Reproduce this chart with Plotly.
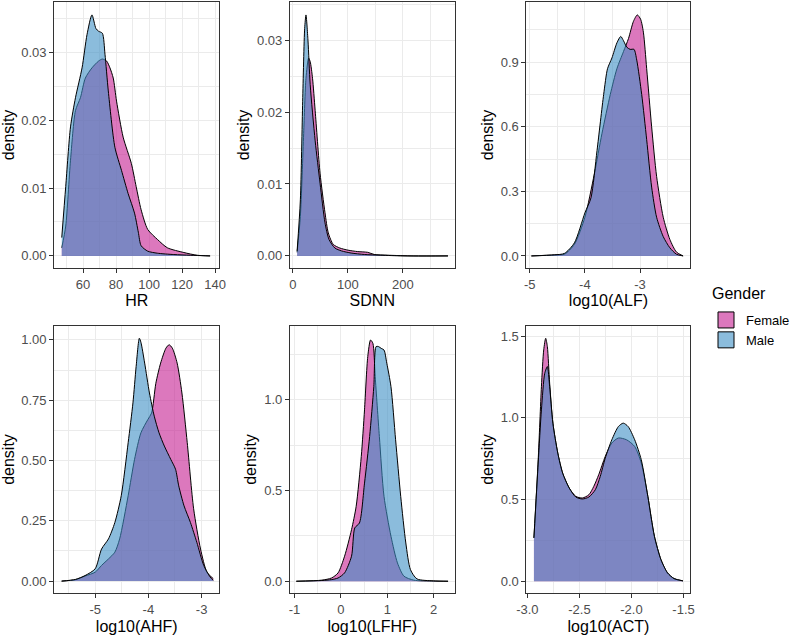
import plotly.graph_objects as go

# ---------------- data (density curves) ----------------
hr_x_female = [47.1, 49.5, 52.4, 55.4, 58.4, 61.4, 65.4, 69.4, 71.7, 74.3, 76.3, 78.3, 80.3, 84.3, 89.3, 92.2, 95.2, 99.2, 105.2, 111.1, 121.1, 129.1, 137.0]
hr_y_female = [0.0012, 0.0044, 0.0141, 0.0214, 0.0233, 0.0262, 0.0277, 0.0287, 0.0290, 0.0287, 0.0277, 0.0262, 0.0228, 0.0175, 0.0136, 0.0102, 0.0068, 0.0039, 0.0024, 0.0012, 0.0005, 0.0001, 0.0]
hr_x_male = [47.1, 49.5, 52.4, 55.4, 59.4, 62.4, 65.4, 67.8, 69.4, 71.7, 73.3, 75.3, 79.3, 83.3, 87.3, 91.2, 93.5, 95.2, 99.2, 105.0, 115.0, 125.0, 137.0]
hr_y_male = [0.0027, 0.0102, 0.0190, 0.0233, 0.0277, 0.0326, 0.0355, 0.0335, 0.0331, 0.0328, 0.0297, 0.0243, 0.0160, 0.0126, 0.0092, 0.0063, 0.0035, 0.0015, 0.0007, 0.0004, 0.0002, 0.0001, 0.0]

sdnn_x_female = [7.8, 13.7, 19.7, 23.9, 28.7, 31.6, 35.8, 40.6, 49.5, 58.5, 64.5, 73.5, 85.4, 100.3, 118.0, 136.0, 148.0, 172.0, 220.0, 282.0]
sdnn_y_female = [0.0005, 0.0055, 0.0170, 0.0247, 0.0275, 0.0270, 0.0247, 0.0202, 0.0115, 0.0060, 0.0032, 0.0016, 0.0011, 0.0008, 0.0006, 0.0005, 0.0002, 0.0001, 0.0, 0.0]
sdnn_x_male = [7.8, 13.7, 17.9, 21.5, 23.9, 27.5, 31.6, 40.6, 49.5, 58.5, 65.7, 76.4, 88.3, 106.0, 130.0, 160.0, 200.0, 282.0]
sdnn_y_male = [0.0007, 0.0078, 0.0215, 0.0316, 0.0335, 0.0300, 0.0238, 0.0160, 0.0101, 0.0046, 0.0023, 0.0011, 0.0007, 0.0004, 0.0002, 0.0001, 0.0, 0.0]

alf_x_female = [-4.97, -4.55, -4.37, -4.19, -4.00, -3.83, -3.69, -3.54, -3.42, -3.30, -3.21, -3.12, -3.05, -2.99, -2.94, -2.88, -2.79, -2.70, -2.58, -2.46, -2.34, -2.22]
alf_y_female = [0.0, 0.005, 0.008, 0.054, 0.18, 0.38, 0.57, 0.75, 0.87, 0.95, 1.01, 1.09, 1.12, 1.10, 1.04, 0.87, 0.60, 0.37, 0.18, 0.077, 0.018, 0.0]
alf_x_male = [-4.97, -4.55, -4.37, -4.19, -4.00, -3.89, -3.78, -3.66, -3.59, -3.51, -3.42, -3.35, -3.30, -3.24, -3.18, -3.11, -3.06, -2.97, -2.88, -2.79, -2.70, -2.58, -2.46, -2.34, -2.22]
alf_y_male = [0.0, 0.005, 0.012, 0.061, 0.20, 0.27, 0.49, 0.75, 0.87, 0.92, 0.99, 1.02, 1.00, 0.97, 0.96, 0.96, 0.91, 0.75, 0.54, 0.32, 0.18, 0.09, 0.038, 0.008, 0.0]

ahf_x_female = [-5.63, -5.37, -5.19, -5.00, -4.88, -4.75, -4.63, -4.54, -4.38, -4.26, -4.14, -4.01, -3.94, -3.86, -3.77, -3.67, -3.61, -3.55, -3.46, -3.37, -3.27, -3.15, -3.02, -2.90, -2.78]
ahf_y_female = [0.0, 0.006, 0.021, 0.037, 0.065, 0.092, 0.12, 0.175, 0.354, 0.505, 0.615, 0.67, 0.697, 0.82, 0.904, 0.966, 0.98, 0.966, 0.904, 0.78, 0.574, 0.30, 0.133, 0.037, 0.01]
ahf_x_male = [-5.63, -5.37, -5.19, -5.00, -4.88, -4.75, -4.63, -4.51, -4.38, -4.29, -4.23, -4.17, -4.14, -4.07, -3.98, -3.89, -3.80, -3.70, -3.58, -3.49, -3.43, -3.33, -3.21, -3.09, -2.96, -2.84, -2.78]
ahf_y_male = [0.0, 0.007, 0.023, 0.051, 0.133, 0.175, 0.243, 0.354, 0.574, 0.739, 0.89, 1.007, 0.99, 0.904, 0.78, 0.684, 0.615, 0.56, 0.505, 0.464, 0.395, 0.312, 0.243, 0.161, 0.065, 0.017, 0.003]

lfhf_x_female = [-0.96, -0.41, -0.20, -0.06, 0.08, 0.23, 0.33, 0.44, 0.51, 0.58, 0.64, 0.69, 0.74, 0.83, 0.93, 1.08, 1.22, 1.36, 1.57, 2.00, 2.31]
lfhf_y_female = [0.0, 0.006, 0.018, 0.046, 0.138, 0.284, 0.413, 0.688, 0.945, 1.239, 1.33, 1.312, 1.128, 0.798, 0.468, 0.248, 0.101, 0.028, 0.006, 0.001, 0.0]
lfhf_x_male = [-0.96, -0.41, -0.20, -0.06, 0.08, 0.23, 0.30, 0.40, 0.51, 0.62, 0.71, 0.76, 0.81, 0.87, 0.93, 0.99, 1.08, 1.18, 1.29, 1.40, 1.50, 1.64, 2.00, 2.31]
lfhf_y_male = [0.0, 0.004, 0.009, 0.018, 0.046, 0.138, 0.294, 0.321, 0.541, 0.798, 1.073, 1.294, 1.294, 1.284, 1.275, 1.202, 1.073, 0.78, 0.468, 0.211, 0.064, 0.013, 0.002, 0.0]

act_x_female = [-2.937, -2.896, -2.865, -2.843, -2.824, -2.808, -2.786, -2.755, -2.708, -2.661, -2.598, -2.535, -2.472, -2.409, -2.362, -2.315, -2.252, -2.189, -2.126, -2.047, -1.969, -1.906, -1.843, -1.780, -1.717, -1.654, -1.591, -1.506]
act_y_female = [0.265, 0.743, 1.19, 1.415, 1.486, 1.435, 1.211, 0.967, 0.784, 0.661, 0.57, 0.519, 0.509, 0.529, 0.58, 0.651, 0.763, 0.845, 0.876, 0.865, 0.824, 0.723, 0.519, 0.275, 0.132, 0.051, 0.016, 0.002]
act_x_male = [-2.937, -2.896, -2.865, -2.833, -2.808, -2.786, -2.755, -2.708, -2.661, -2.598, -2.535, -2.472, -2.409, -2.347, -2.300, -2.252, -2.189, -2.126, -2.079, -2.032, -1.969, -1.906, -1.843, -1.780, -1.717, -1.654, -1.591, -1.506]
act_y_male = [0.265, 0.723, 1.048, 1.272, 1.313, 1.191, 0.967, 0.784, 0.661, 0.57, 0.515, 0.503, 0.515, 0.56, 0.641, 0.753, 0.865, 0.946, 0.967, 0.946, 0.865, 0.743, 0.519, 0.275, 0.132, 0.051, 0.016, 0.002]

groups = ["Female", "Male"]
legend_title = "Gender"
x_titles = ["HR", "SDNN", "log10(ALF)", "log10(AHF)", "log10(LFHF)", "log10(ACT)"]

x_tickvals = [[60, 80, 100, 120, 140], [0, 100, 200], [-5, -4, -3], [-5, -4, -3], [-1, 0, 1, 2], [-3.0, -2.5, -2.0, -1.5]]
x_ticktext = [["60", "80", "100", "120", "140"], ["0", "100", "200"], ["-5", "-4", "-3"], ["-5", "-4", "-3"], ["-1", "0", "1", "2"], ["-3.0", "-2.5", "-2.0", "-1.5"]]
y_tickvals = [[0, 0.01, 0.02, 0.03], [0, 0.01, 0.02, 0.03], [0, 0.3, 0.6, 0.9], [0, 0.25, 0.5, 0.75, 1.0], [0, 0.5, 1.0], [0, 0.5, 1.0, 1.5]]
y_ticktext = [["0.00", "0.01", "0.02", "0.03"], ["0.00", "0.01", "0.02", "0.03"], ["0.0", "0.3", "0.6", "0.9"], ["0.00", "0.25", "0.50", "0.75", "1.00"], ["0.0", "0.5", "1.0"], ["0.0", "0.5", "1.0", "1.5"]]

# ---------------- styling ----------------
W, H = 795, 636
fill_colors = {"Female": "rgba(196,30,145,0.6)", "Male": "rgba(62,143,197,0.6)"}
x_ranges = [[42.5, 142.6], [-5.4, 294.3], [-5.06, -2.087], [-5.77, -2.667], [-1.099, 2.454], [-3.009, -1.434]]
y_ranges = [[-0.00178, 0.0374], [-0.00168, 0.0353], [-0.056, 1.18], [-0.0505, 1.059], [-0.0665, 1.409], [-0.074, 1.563]]
x_minor = [10, 50, 0.5, 0.5, 0.5, 0.25]
y_minor = [0.005, 0.005, 0.15, 0.125, 0.25, 0.25]

col_px = [(55, 222.7), (294.3, 461.7), (534.5, 701)]
row_px = [(2, 268), (325.7, 593.3)]

panels = [
    (hr_x_female, hr_y_female, hr_x_male, hr_y_male),
    (sdnn_x_female, sdnn_y_female, sdnn_x_male, sdnn_y_male),
    (alf_x_female, alf_y_female, alf_x_male, alf_y_male),
    (ahf_x_female, ahf_y_female, ahf_x_male, ahf_y_male),
    (lfhf_x_female, lfhf_y_female, lfhf_x_male, lfhf_y_male),
    (act_x_female, act_y_female, act_x_male, act_y_male),
]

FONT = "Liberation Sans, Arial"
fig = go.Figure()
layout = {}
for i, (xf, yf, xm, ym) in enumerate(panels):
    n = "" if i == 0 else str(i + 1)
    r, c = divmod(i, 3)
    for name, xs, ys in (("Female", xf, yf), ("Male", xm, ym)):
        fig.add_trace(go.Scatter(
            x=xs, y=ys, mode="lines", fill="tozeroy",
            fillcolor=fill_colors[name],
            line=dict(color="black", width=1, shape="spline", smoothing=0.7),
            xaxis="x" + n, yaxis="y" + n, showlegend=False, hoverinfo="skip"))
    x0, x1 = col_px[c]
    y0, y1 = row_px[r]
    axis_common = dict(
        showline=True, mirror=True, linecolor="#333333", linewidth=1,
        ticks="outside", ticklen=4, tickcolor="#333333", tickwidth=1,
        showgrid=True, gridcolor="#EBEBEB", gridwidth=1, zeroline=False,
        tickfont=dict(family=FONT, size=13, color="#4D4D4D"),
        automargin=False,
    )
    layout["xaxis" + n] = dict(
        axis_common, domain=[x0 / W, x1 / W], range=x_ranges[i], anchor="y" + n,
        tickmode="array", tickvals=x_tickvals[i], ticktext=x_ticktext[i],
        minor=dict(dtick=x_minor[i], tick0=0, showgrid=True, gridcolor="#EBEBEB", gridwidth=0.5, ticks=""),
        title=dict(text=x_titles[i], standoff=4,
                   font=dict(family=FONT, size=16, color="black")),
    )
    layout["yaxis" + n] = dict(
        axis_common, domain=[1 - y1 / H, 1 - y0 / H], range=y_ranges[i], anchor="x" + n,
        tickmode="array", tickvals=y_tickvals[i], ticktext=y_ticktext[i],
        minor=dict(dtick=y_minor[i], tick0=0, showgrid=True, gridcolor="#EBEBEB", gridwidth=0.5, ticks=""),
        title=dict(text="density", standoff=3,
                   font=dict(family=FONT, size=16, color="black")),
    )

# legend entries (square keys)
for name in groups:
    fig.add_trace(go.Scatter(
        x=[None], y=[None], mode="markers", name=name,
        marker=dict(symbol="square", size=18, color=fill_colors[name],
                    line=dict(color="black", width=1)),
        showlegend=True))

fig.update_layout(
    width=W, height=H,
    margin=dict(l=0, r=0, t=0, b=0),
    paper_bgcolor="white", plot_bgcolor="white",
    font=dict(family=FONT, size=13, color="black"),
    showlegend=True,
    legend=dict(
        x=717 / W, y=1 - 305 / H, xanchor="left", yanchor="top",
        font=dict(size=13, color="black"), bgcolor="rgba(0,0,0,0)",
        itemwidth=30, tracegroupgap=0,
    ),
    annotations=[dict(
        text=legend_title, x=721 / W, y=1 - 293 / H, xref="paper", yref="paper",
        xanchor="left", yanchor="middle", showarrow=False,
        font=dict(family=FONT, size=16, color="black"))],
    **layout,
)

fig.write_html("out.html", config={"displayModeBar": False},
               post_script="document.body.style.margin='0px';")
